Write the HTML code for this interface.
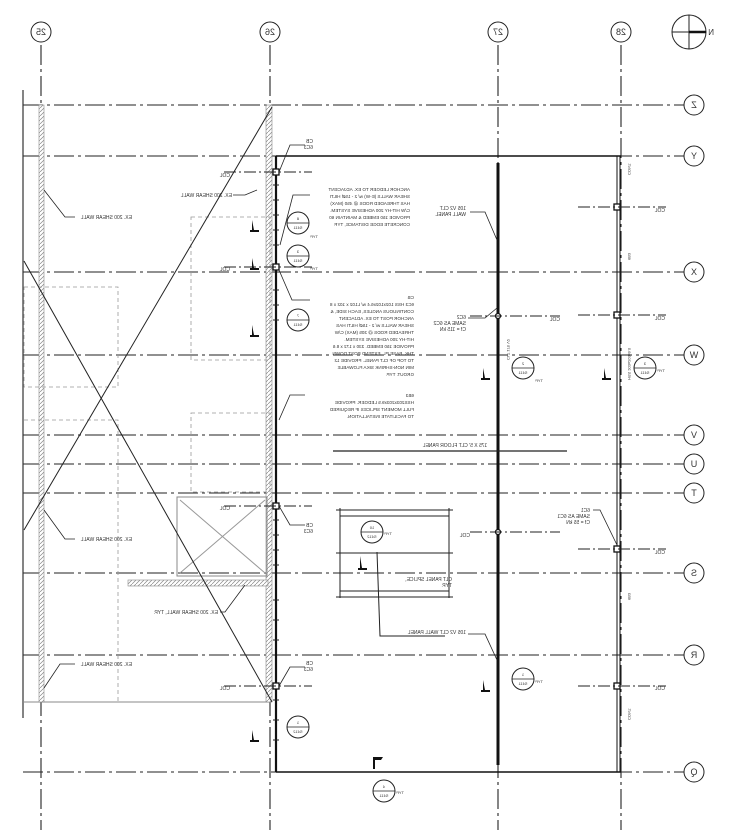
<!DOCTYPE html>
<html><head><meta charset="utf-8"><style>
html,body{margin:0;padding:0;background:#fff;}
svg{display:block;}
text{font-family:"Liberation Sans",sans-serif;fill:#333;}
</style></head><body>
<svg width="742" height="830" viewBox="0 0 742 830" xmlns="http://www.w3.org/2000/svg">
<defs>
<pattern id="h" width="4" height="4" patternUnits="userSpaceOnUse"><rect width="4" height="4" fill="#fff"/><path d="M0 4L4 0" stroke="#888" stroke-width="0.7"/></pattern>
</defs>
<g stroke="#222" stroke-width="1.1" stroke-dasharray="20 4 3 4" fill="none">
<line x1="41" y1="45" x2="41" y2="830"/>
<line x1="270" y1="45" x2="270" y2="830"/>
<line x1="498" y1="45" x2="498" y2="830"/>
<line x1="621" y1="45" x2="621" y2="830"/>
</g>
<g stroke="#222" stroke-width="1.1" stroke-dasharray="20 4 3 4" fill="none">
<line x1="23" y1="105" x2="684" y2="105"/>
<line x1="23" y1="156" x2="684" y2="156"/>
<line x1="23" y1="272" x2="684" y2="272"/>
<line x1="23" y1="355" x2="684" y2="355"/>
<line x1="23" y1="435" x2="684" y2="435"/>
<line x1="23" y1="464" x2="684" y2="464"/>
<line x1="23" y1="493" x2="684" y2="493"/>
<line x1="23" y1="573" x2="684" y2="573"/>
<line x1="23" y1="655" x2="684" y2="655"/>
<line x1="23" y1="772" x2="684" y2="772"/>
</g>
<g fill="#fff" stroke="#222" stroke-width="1">
<circle cx="41" cy="32" r="10"/><circle cx="270" cy="32" r="10"/><circle cx="498" cy="32" r="10"/><circle cx="621" cy="32" r="10"/>
<circle cx="694" cy="105" r="10"/><circle cx="694" cy="156" r="10"/><circle cx="694" cy="272" r="10"/><circle cx="694" cy="355" r="10"/>
<circle cx="694" cy="435" r="10"/><circle cx="694" cy="464" r="10"/><circle cx="694" cy="493" r="10"/><circle cx="694" cy="573" r="10"/>
<circle cx="694" cy="655" r="10"/><circle cx="694" cy="772" r="10"/>
</g>
<g font-size="9" text-anchor="middle">
<text transform="translate(41,35) scale(-1,1)">25</text>
<text transform="translate(270,35) scale(-1,1)">26</text>
<text transform="translate(498,35) scale(-1,1)">27</text>
<text transform="translate(621,35) scale(-1,1)">28</text>
<text transform="translate(694,108) scale(-1,1)">Z</text>
<text transform="translate(694,159) scale(-1,1)">Y</text>
<text transform="translate(694,275) scale(-1,1)">X</text>
<text transform="translate(694,358) scale(-1,1)">W</text>
<text transform="translate(694,438) scale(-1,1)">V</text>
<text transform="translate(694,467) scale(-1,1)">U</text>
<text transform="translate(694,496) scale(-1,1)">T</text>
<text transform="translate(694,576) scale(-1,1)">S</text>
<text transform="translate(694,658) scale(-1,1)">R</text>
<text transform="translate(694,775) scale(-1,1)">Q</text>
</g>
<circle cx="689" cy="32" r="17" fill="none" stroke="#222" stroke-width="1"/>
<line x1="672" y1="32" x2="706" y2="32" stroke="#222"/>
<line x1="689" y1="15" x2="689" y2="49" stroke="#222"/>
<line x1="689" y1="32" x2="706" y2="32" stroke="#111" stroke-width="2.5"/>
<text transform="translate(714,35) scale(-1,1)" font-size="8">N</text>

<line x1="23" y1="90" x2="23" y2="718" stroke="#333" stroke-width="1.2"/>
<line x1="23" y1="702" x2="270" y2="702" stroke="#888" stroke-width="1"/>
<rect x="39" y="105" width="5" height="597" fill="url(#h)" stroke="#888" stroke-width="0.6"/>
<rect x="266" y="105" width="6" height="597" fill="url(#h)" stroke="#888" stroke-width="0.6"/>
<g fill="none" stroke="#999" stroke-width="0.8" stroke-dasharray="4 3">
<rect x="191" y="217" width="79" height="143"/>
<rect x="191" y="413" width="79" height="79"/>
<rect x="24" y="287" width="94" height="100"/>
<polyline points="24,420 118,420 118,702"/>
</g>
<rect x="177" y="497" width="90" height="79" fill="none" stroke="#888" stroke-width="1"/>
<line x1="180" y1="500" x2="265" y2="573" stroke="#999"/><line x1="265" y1="500" x2="180" y2="573" stroke="#999"/>
<rect x="128" y="580" width="140" height="6" fill="url(#h)" stroke="#888" stroke-width="0.6"/>
<line x1="272" y1="107" x2="24" y2="530" stroke="#222" stroke-width="1"/>
<line x1="24" y1="261" x2="272" y2="702" stroke="#222" stroke-width="1"/>

<line x1="276" y1="156" x2="276" y2="772" stroke="#111" stroke-width="2.2"/>
<line x1="276" y1="156" x2="621" y2="156" stroke="#111" stroke-width="1.5"/>
<line x1="276" y1="772" x2="621" y2="772" stroke="#111" stroke-width="1.5"/>
<line x1="617" y1="156" x2="617" y2="772" stroke="#111" stroke-width="1"/>
<line x1="620" y1="156" x2="620" y2="772" stroke="#111" stroke-width="1"/>
<line x1="498" y1="163" x2="498" y2="765" stroke="#111" stroke-width="3"/>
<g stroke="#222" stroke-width="1">
<path d="M273 185h6M273 200h6M273 215h6M273 230h6M273 245h6M273 290h6M273 305h6M273 320h6M273 520h6M273 535h6M273 550h6M273 565h6M273 600h6M273 620h6M273 640h6M273 700h6M273 720h6M273 740h6"/>
</g>
<g fill="#fff" stroke="#111" stroke-width="1.3">
<rect x="273" y="169" width="6" height="6"/><rect x="273" y="264" width="6" height="6"/>
<rect x="273" y="503" width="6" height="6"/><rect x="273" y="683" width="6" height="6"/>
<rect x="614" y="204" width="6" height="6"/><rect x="614" y="312" width="6" height="6"/>
<rect x="614" y="546" width="6" height="6"/><rect x="614" y="683" width="6" height="6"/>
<circle cx="498" cy="316" r="2.5"/><circle cx="498" cy="532" r="2.5"/>
</g>
<g stroke="#222" stroke-width="1" stroke-dasharray="12 3 2 3">
<line x1="224" y1="172" x2="312" y2="172"/><line x1="224" y1="267" x2="312" y2="267"/>
<line x1="224" y1="506" x2="312" y2="506"/><line x1="224" y1="686" x2="312" y2="686"/>
<line x1="578" y1="207" x2="666" y2="207"/><line x1="578" y1="315" x2="666" y2="315"/>
<line x1="578" y1="549" x2="666" y2="549"/><line x1="578" y1="686" x2="666" y2="686"/>
<line x1="470" y1="316" x2="560" y2="316"/><line x1="470" y1="532" x2="560" y2="532"/>
</g>

<g stroke="#222" stroke-width="1" fill="none">
<line x1="340" y1="508" x2="340" y2="598"/><line x1="449" y1="508" x2="449" y2="598"/>
<line x1="336" y1="510" x2="453" y2="510"/><line x1="340" y1="516" x2="449" y2="516"/>
<line x1="336" y1="553" x2="453" y2="553"/><line x1="340" y1="591" x2="449" y2="591"/><line x1="336" y1="597" x2="453" y2="597"/>
<polyline points="377,552 380,636 445,636"/>
</g>
<line x1="333" y1="451" x2="567" y2="451" stroke="#222" stroke-width="1.2"/>
<text transform="translate(455,447) scale(-1,1)" font-size="5" text-anchor="middle">175 X 5' CLT FLOOR PANEL</text>

<g fill="#fff" stroke="#222" stroke-width="1">
<circle cx="298" cy="223" r="11"/><circle cx="298" cy="256" r="11"/><circle cx="298" cy="320" r="11"/>
<circle cx="523" cy="368" r="11"/><circle cx="645" cy="368" r="11"/><circle cx="372" cy="532" r="11"/>
<circle cx="523" cy="679" r="11"/><circle cx="298" cy="727" r="11"/><circle cx="384" cy="791" r="11"/>
</g>
<g stroke="#222" stroke-width="0.8">
<path d="M287 223h22M287 256h22M287 320h22M512 368h22M634 368h22M361 532h22M512 679h22M287 727h22M373 791h22"/>
</g>
<g font-size="4" text-anchor="middle">
<text transform="translate(298,220) scale(-1,1)">8</text><text transform="translate(298,229) scale(-1,1)">S411</text>
<text transform="translate(298,253) scale(-1,1)">3</text><text transform="translate(298,262) scale(-1,1)">S411</text>
<text transform="translate(298,317) scale(-1,1)">7</text><text transform="translate(298,326) scale(-1,1)">S411</text>
<text transform="translate(523,365) scale(-1,1)">2</text><text transform="translate(523,374) scale(-1,1)">S411</text>
<text transform="translate(645,365) scale(-1,1)">3</text><text transform="translate(645,374) scale(-1,1)">S411</text>
<text transform="translate(372,529) scale(-1,1)">10</text><text transform="translate(372,538) scale(-1,1)">S412</text>
<text transform="translate(523,676) scale(-1,1)">1</text><text transform="translate(523,685) scale(-1,1)">S411</text>
<text transform="translate(298,724) scale(-1,1)">1</text><text transform="translate(298,733) scale(-1,1)">S412</text>
<text transform="translate(384,788) scale(-1,1)">4</text><text transform="translate(384,797) scale(-1,1)">S411</text>
</g>
<g fill="#111">
<path d="M250 230h2v-10l2 10h5v2h-9z"/><path d="M250 268h2v-10l2 10h5v2h-9z"/><path d="M250 335h2v-10l2 10h5v2h-9z"/>
<path d="M481 378h2v-10l2 10h5v2h-9z"/><path d="M602 378h2v-10l2 10h5v2h-9z"/><path d="M481 690h2v-10l2 10h5v2h-9z"/>
<path d="M250 740h2v-10l2 10h5v2h-9z"/><path d="M358 568h2v-12l2 12h5v2h-9z"/>
<path d="M373 757h2v12h-2z"/><path d="M375 757h8l-2 3h-6z"/>
</g>

<g stroke="#222" stroke-width="0.8" fill="none">
<polyline points="279,172 290,145 305,145"/><polyline points="279,506 290,525 305,525"/><polyline points="279,686 290,667 305,667"/>
<polyline points="280,245 293,195 310,195"/><polyline points="279,270 292,300 310,300"/><polyline points="279,420 290,395 305,395"/>
<polyline points="257,190 245,195 233,195"/><polyline points="44,190 65,217 75,217"/><polyline points="44,510 65,539 75,539"/>
<polyline points="44,688 60,664 75,664"/><polyline points="245,585 225,612 220,612"/>
<polyline points="497,240 485,212 470,212"/><polyline points="497,308 485,318 468,318"/><polyline points="497,660 485,634 468,634"/>
<polyline points="617,545 600,510 593,510"/>
</g>

<g font-size="5">
<text transform="translate(313,143) scale(-1,1)">CB</text><text transform="translate(313,149) scale(-1,1)">6C3</text>
<text transform="translate(313,527) scale(-1,1)">CB</text><text transform="translate(313,533) scale(-1,1)">6C3</text>
<text transform="translate(313,665) scale(-1,1)">CB</text><text transform="translate(313,671) scale(-1,1)">6C3</text>
<text transform="translate(230,177) scale(-1,1)">COL</text><text transform="translate(230,271) scale(-1,1)">COL</text>
<text transform="translate(230,510) scale(-1,1)">COL</text><text transform="translate(230,690) scale(-1,1)">COL</text>
<text transform="translate(665,212) scale(-1,1)">COL</text><text transform="translate(665,320) scale(-1,1)">COL</text>
<text transform="translate(665,554) scale(-1,1)">COL</text><text transform="translate(665,690) scale(-1,1)">COL</text>
<text transform="translate(560,321) scale(-1,1)">COL</text><text transform="translate(470,537) scale(-1,1)">COL</text>
<text transform="translate(232,197) scale(-1,1)">EX. 200 SHEAR WALL</text>
<text transform="translate(132,219) scale(-1,1)">EX. 200 SHEAR WALL</text>
<text transform="translate(132,541) scale(-1,1)">EX. 200 SHEAR WALL</text>
<text transform="translate(132,666) scale(-1,1)">EX. 200 SHEAR WALL</text>
<text transform="translate(218,614) scale(-1,1)">EX. 200 SHEAR WALL, TYP.</text>
<text transform="translate(466,210) scale(-1,1)">105 V2 CLT</text><text transform="translate(466,216) scale(-1,1)">WALL PANEL</text>
<text transform="translate(466,634) scale(-1,1)">105 V2 CLT WALL PANEL</text>
<text transform="translate(466,319) scale(-1,1)">6C2</text><text transform="translate(466,325) scale(-1,1)">SAME AS 6C2</text><text transform="translate(466,331) scale(-1,1)">Cf = 115 kN</text>
<text transform="translate(590,512) scale(-1,1)">6C1</text><text transform="translate(590,518) scale(-1,1)">SAME AS 6C1</text><text transform="translate(590,524) scale(-1,1)">Cf = 55 kN</text>
<text transform="translate(452,581) scale(-1,1)">CLT PANEL SPLICE,</text><text transform="translate(452,587) scale(-1,1)">TYP.</text>
</g>
<g font-size="4.6">
<text transform="translate(410,191) scale(-1,1)">ANCHOR LEDGER TO EX. ADJACENT</text>
<text transform="translate(410,198) scale(-1,1)">SHEAR WALLS (E-W) w/ 2 - 15Ø HILTI</text>
<text transform="translate(410,205) scale(-1,1)">HAS THREADED RODS @ 450 (MAX)</text>
<text transform="translate(410,212) scale(-1,1)">C/W HIT-HY 200 ADHESIVE SYSTEM.</text>
<text transform="translate(410,219) scale(-1,1)">PROVIDE 150 EMBED &amp; MAINTAIN 60</text>
<text transform="translate(410,226) scale(-1,1)">CONCRETE EDGE DISTANCE, TYP.</text>
<text transform="translate(414,299) scale(-1,1)">CB</text>
<text transform="translate(414,306) scale(-1,1)">6C3 HSS 102x102x6.4 w/ L102 x 102 x 8</text>
<text transform="translate(414,313) scale(-1,1)">CONTINUOUS ANGLES, EACH SIDE, &amp;</text>
<text transform="translate(414,320) scale(-1,1)">ANCHOR POST TO EX. ADJACENT</text>
<text transform="translate(414,327) scale(-1,1)">SHEAR WALLS w/ 2 - 15Ø HILTI HAS</text>
<text transform="translate(414,334) scale(-1,1)">THREADED RODS @ 305 (MAX) C/W</text>
<text transform="translate(414,341) scale(-1,1)">HIT-HY 200 ADHESIVE SYSTEM.</text>
<text transform="translate(414,348) scale(-1,1)">PROVIDE 150 EMBED. 330 x 172 x 8.6</text>
<text transform="translate(414,355) scale(-1,1)">THK. BASE PL. EXTEND POST DOWN</text>
<text transform="translate(414,362) scale(-1,1)">TO TOP OF CLT PANEL. PROVIDE 12</text>
<text transform="translate(414,369) scale(-1,1)">MIN NON-SHRINK SIKA FLOWABLE</text>
<text transform="translate(414,376) scale(-1,1)">GROUT. TYP.</text>
<text transform="translate(414,397) scale(-1,1)">6B3</text>
<text transform="translate(414,404) scale(-1,1)">HSS203x203x9.5 LEDGER. PROVIDE</text>
<text transform="translate(414,411) scale(-1,1)">FULL MOMENT SPLICES IF REQUIRED</text>
<text transform="translate(414,418) scale(-1,1)">TO FACILITATE INSTALLATION.</text>
</g>
<g font-size="4">
<text transform="translate(318,238) scale(-1,1)">TYP.</text><text transform="translate(318,270) scale(-1,1)">TYP.</text>
<text transform="translate(543,382) scale(-1,1)">TYP.</text><text transform="translate(665,372) scale(-1,1)">TYP.</text>
<text transform="translate(392,535) scale(-1,1)">TYP.</text><text transform="translate(543,683) scale(-1,1)">TYP.</text>
<text transform="translate(404,794) scale(-1,1)">TYP.</text>
</g>
<g font-size="4" fill="#444">
<text transform="translate(507,360) rotate(90) scale(-1,1)">CLT 175 V2</text>
<text transform="translate(628,380) rotate(90) scale(-1,1)">HSS 203x203x9.5</text>
<text transform="translate(628,175) rotate(90) scale(-1,1)">CONT.</text>
<text transform="translate(628,260) rotate(90) scale(-1,1)">6B3</text>
<text transform="translate(628,600) rotate(90) scale(-1,1)">6B3</text>
<text transform="translate(628,720) rotate(90) scale(-1,1)">CONT.</text>
</g>
</svg>
</body></html>
